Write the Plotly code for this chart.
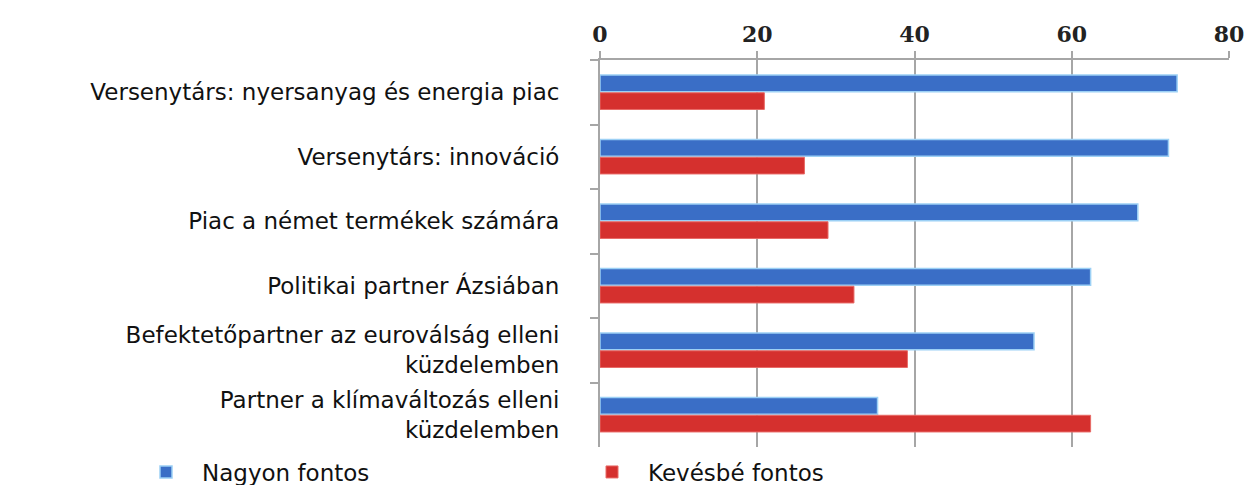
import plotly.graph_objects as go

categories = [
    "Versenytárs: nyersanyag és energia piac",
    "Versenytárs: innováció",
    "Piac a német termékek számára",
    "Politikai partner Ázsiában",
    "Befektetőpartner az euroválság elleni<br>küzdelemben",
    "Partner a klímaváltozás elleni<br>küzdelemben",
]
nagyon_fontos = [73.4, 72.3, 68.4, 62.4, 55.2, 35.3]
kevesbe_fontos = [20.9, 26.0, 29.0, 32.3, 39.1, 62.4]
x_ticks = [0, 20, 40, 60, 80]

BLUE = "#3a6ec6"
RED = "#d5302e"
GRID = "#a6a6a6"
TEXT = "#111111"
LABEL_FONT = dict(family="DejaVu Sans", size=23, color=TEXT)

# the page body keeps its default 8px margin, so the figure is 8px smaller
W, H = 1245, 477
L, R, T, B = 592, 24, 52, 38
plot_w, plot_h = W - L - R, H - T - B

fig = go.Figure()
fig.add_trace(go.Bar(
    y=categories, x=nagyon_fontos, orientation="h", name="Nagyon fontos",
    marker=dict(color=BLUE, line=dict(color="#9cd0f5", width=1.5)),
    legend="legend",
))
fig.add_trace(go.Bar(
    y=categories, x=kevesbe_fontos, orientation="h", name="Kevésbé fontos",
    marker=dict(color=RED, line=dict(color="#e86a66", width=1)),
    legend="legend2",
))

legend_style = dict(
    orientation="h", xref="paper", yref="paper", yanchor="middle",
    y=-(464 - (H - B)) / plot_h, xanchor="left", itemwidth=62,
    font=LABEL_FONT, bgcolor="rgba(0,0,0,0)",
)

fig.update_layout(
    width=W, height=H,
    paper_bgcolor="white", plot_bgcolor="white",
    margin=dict(l=L, r=R, t=T, b=B, autoexpand=False),
    barmode="group", bargap=0.45, bargroupgap=0.06,
    font=LABEL_FONT,
    legend=dict(legend_style, x=(122 - L) / plot_w),
    legend2=dict(legend_style, x=(568 - L) / plot_w),
    showlegend=True,
)
fig.update_xaxes(
    side="top", range=[0, 80], tickvals=x_ticks, automargin=False,
    showgrid=True, gridcolor=GRID, gridwidth=2,
    zeroline=False, showline=True, linecolor=GRID, linewidth=2,
    ticks="outside", ticklen=7, tickcolor=GRID, tickwidth=2,
    tickfont=dict(family="DejaVu Serif", size=22, color="#222222", weight="bold"),
)
fig.update_yaxes(
    autorange="reversed", type="category", automargin=False,
    showline=True, linecolor=GRID, linewidth=2,
    ticks="outside", ticklen=8, tickcolor=GRID, tickwidth=2,
    tickson="boundaries", ticklabelstandoff=34,
    tickfont=LABEL_FONT,
)

fig.write_html("out.html")
